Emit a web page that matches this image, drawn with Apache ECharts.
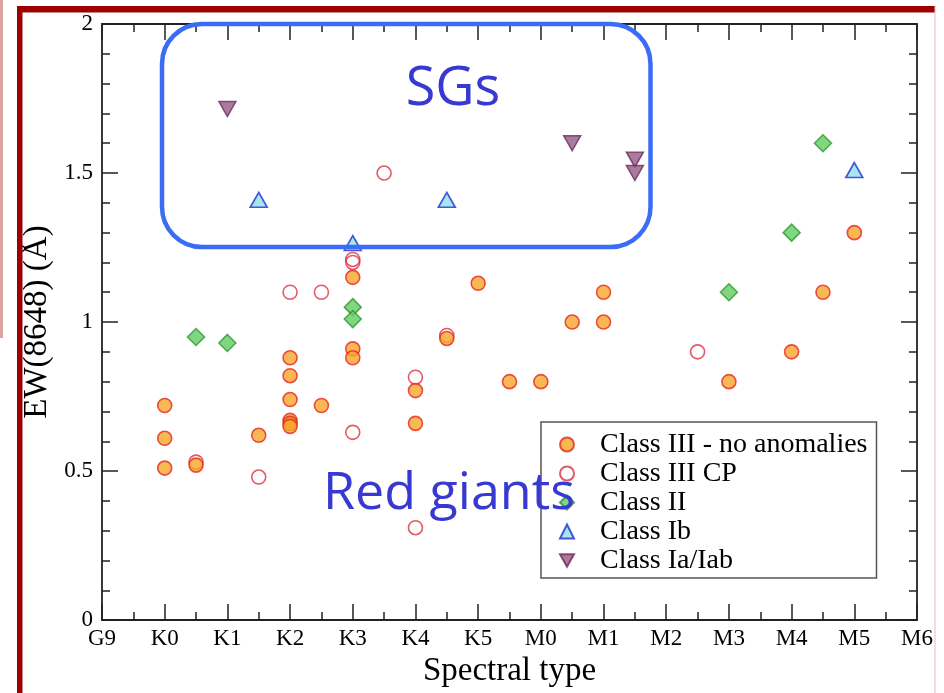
<!DOCTYPE html>
<html>
<head>
<meta charset="utf-8">
<script src="https://cdn.jsdelivr.net/npm/echarts@6/dist/echarts.min.js"></script>
<style>html,body{margin:0;padding:0;background:#fff;overflow:hidden;}#c{width:944px;height:693px;}</style>
</head>
<body>
<div id="c"></div>
<script>
// Spectral-type tick labels (x position = index: G9=0, K0=1, ... M6=13)
const xTickLabels = ['G9','K0','K1','K2','K3','K4','K5','M0','M1','M2','M3','M4','M5','M6'];

// [spectral position, EW(8648) in Å]
const classIII = [
  [1,0.72],[1,0.61],[1,0.51],[1.5,0.52],[2.5,0.62],
  [3,0.88],[3,0.82],[3,0.74],[3,0.67],[3,0.66],[3,0.65],
  [3.5,0.72],[4,1.15],[4,0.91],[4,0.88],[5,0.77],[5,0.66],
  [5.5,0.945],[6,1.13],[6.5,0.80],[7,0.80],[7.5,1.00],[8,1.10],[8,1.00],
  [10,0.80],[11,0.90],[11.5,1.10],[12,1.30]
];
const classIIICP = [
  [1.5,0.53],[2.5,0.48],[3,1.10],[3.5,1.10],[4,1.21],[4,1.20],[4,0.63],
  [4.5,1.50],[5,0.815],[5,0.31],[5.5,0.955],[9.5,0.90]
];
const classII = [
  [1.5,0.95],[2,0.93],[4,1.05],[4,1.01],[10,1.10],[11,1.30],[11.5,1.60]
];
const classIb = [
  [2.5,1.41],[4,1.265],[5.5,1.41],[12,1.51]
];
const classIa = [
  [2,1.715],[7.5,1.60],[8.5,1.545],[8.5,1.50]
];
const legendNames = ['Class III - no anomalies','Class III CP','Class II','Class Ib','Class Ia/Iab'];

const chart = echarts.init(document.getElementById('c'), null, {renderer:'canvas', width:944, height:693});
const serif = 'Liberation Serif';
const axisLineStyle = {color:'#222', width:1.8};
const downTri = 'path://M0,0L17,0L8.5,15Z';
function xAxisCfg(pos, showLabel){
  return {
    type:'value', position:pos, min:0, max:13, interval:1,
    axisLine:{show:true, onZero:false, lineStyle:axisLineStyle},
    axisTick:{show:true, inside:true, length:16, lineStyle:{color:'#222', width:1.5}},
    minorTick:{show:true, splitNumber:2, length:8, lineStyle:{color:'#222', width:1.5}},
    splitLine:{show:false}, minorSplitLine:{show:false},
    axisLabel:{show:showLabel, margin:7, fontFamily:serif, fontSize:23, color:'#000',
      formatter:v=>xTickLabels[Math.round(v)] || ''},
    name: showLabel ? 'Spectral type' : '', nameLocation:'middle', nameGap:29,
    nameTextStyle:{fontFamily:serif, fontSize:33, color:'#000'}
  };
}
function yAxisCfg(pos, showLabel){
  return {
    type:'value', position:pos, min:0, max:2, interval:0.5,
    axisLine:{show:true, onZero:false, lineStyle:axisLineStyle},
    axisTick:{show:true, inside:true, length:16, lineStyle:{color:'#222', width:1.5}},
    minorTick:{show:true, splitNumber:5, length:8, lineStyle:{color:'#222', width:1.5}},
    splitLine:{show:false}, minorSplitLine:{show:false},
    axisLabel:{show:showLabel, margin:9, fontFamily:serif, fontSize:23, color:'#000'},
    name: showLabel ? 'EW(8648) (Å)' : '', nameLocation:'middle', nameGap:40,
    nameTextStyle:{fontFamily:serif, fontSize:33, color:'#000'}
  };
}

chart.setOption({
  animation:false,
  backgroundColor:'#fff',
  grid:{left:102, right:27, top:24, bottom:69, containLabel:false},
  xAxis:[xAxisCfg('bottom', true), xAxisCfg('top', false)],
  yAxis:[yAxisCfg('left', true), yAxisCfg('right', false)],
  legend:{
    data:[
      {name:legendNames[0], icon:'circle'},
      {name:legendNames[1], icon:'circle'},
      {name:legendNames[2], icon:'diamond'},
      {name:legendNames[3], icon:'triangle'},
      {name:legendNames[4], icon:downTri}
    ],
    orient:'vertical', left:541, top:422,
    padding:[8,9,3,18], itemGap:0, itemWidth:14, itemHeight:14,
    backgroundColor:'#fff', borderColor:'#555', borderWidth:1.5,
    textStyle:{fontFamily:serif, fontSize:28, color:'#000', lineHeight:29, padding:[0,0,0,21]},
    z:5
  },
  series:[
    {name:'Class III CP', type:'scatter', data:classIIICP, symbol:'circle', symbolSize:14,
     itemStyle:{color:'rgba(255,255,255,0)', borderColor:'#e0303c', borderWidth:1.6}, z:2},
    {name:'Class III - no anomalies', type:'scatter', data:classIII, symbol:'circle', symbolSize:14,
     itemStyle:{color:'#f9a52a', borderColor:'#e5281e', borderWidth:1.6}, z:3},
    {name:'Class II', type:'scatter', data:classII, symbol:'diamond', symbolSize:17,
     itemStyle:{color:'#62cd62', borderColor:'#2c962c', borderWidth:1.5}, z:3},
    {name:'Class Ib', type:'scatter', data:classIb, symbol:'triangle', symbolSize:[17,15],
     itemStyle:{color:'#92e0ea', borderColor:'#1c2fcf', borderWidth:1.6}, z:3},
    {name:'Class Ia/Iab', type:'scatter', data:classIa, symbol:downTri, symbolSize:[17,15],
     itemStyle:{color:'#955a85', borderColor:'#6a2c5d', borderWidth:1.5}, z:3}
  ],
  graphic:[
    {type:'rect', shape:{x:0,y:0,width:3,height:338}, style:{fill:'#dca3a3'}, z:50, silent:true},
    {type:'rect', shape:{x:17,y:6,width:918,height:6.5}, style:{fill:'#9e0000'}, z:50, silent:true},
    {type:'rect', shape:{x:17,y:6,width:5.5,height:700}, style:{fill:'#9e0000'}, z:50, silent:true},
    {type:'rect', shape:{x:934.5,y:6,width:1,height:700}, style:{fill:'#e6baba'}, z:50, silent:true},
    {type:'rect', shape:{x:162,y:24,width:488.5,height:223,r:40},
     style:{fill:null, stroke:'#3b6cf6', lineWidth:4.5}, z:60, silent:true},
    {type:'text', x:453, y:90, z:70, silent:true,
     style:{text:'SGs', font:'54px "Open Sans"', fill:'#3838d2', textAlign:'center', textVerticalAlign:'middle'}},
    {type:'text', x:449, y:494, z:70, silent:true,
     style:{text:'Red giants', font:'52px "Open Sans"', fill:'#3838d2', textAlign:'center', textVerticalAlign:'middle'}}
  ]
});
</script>
</body>
</html>
